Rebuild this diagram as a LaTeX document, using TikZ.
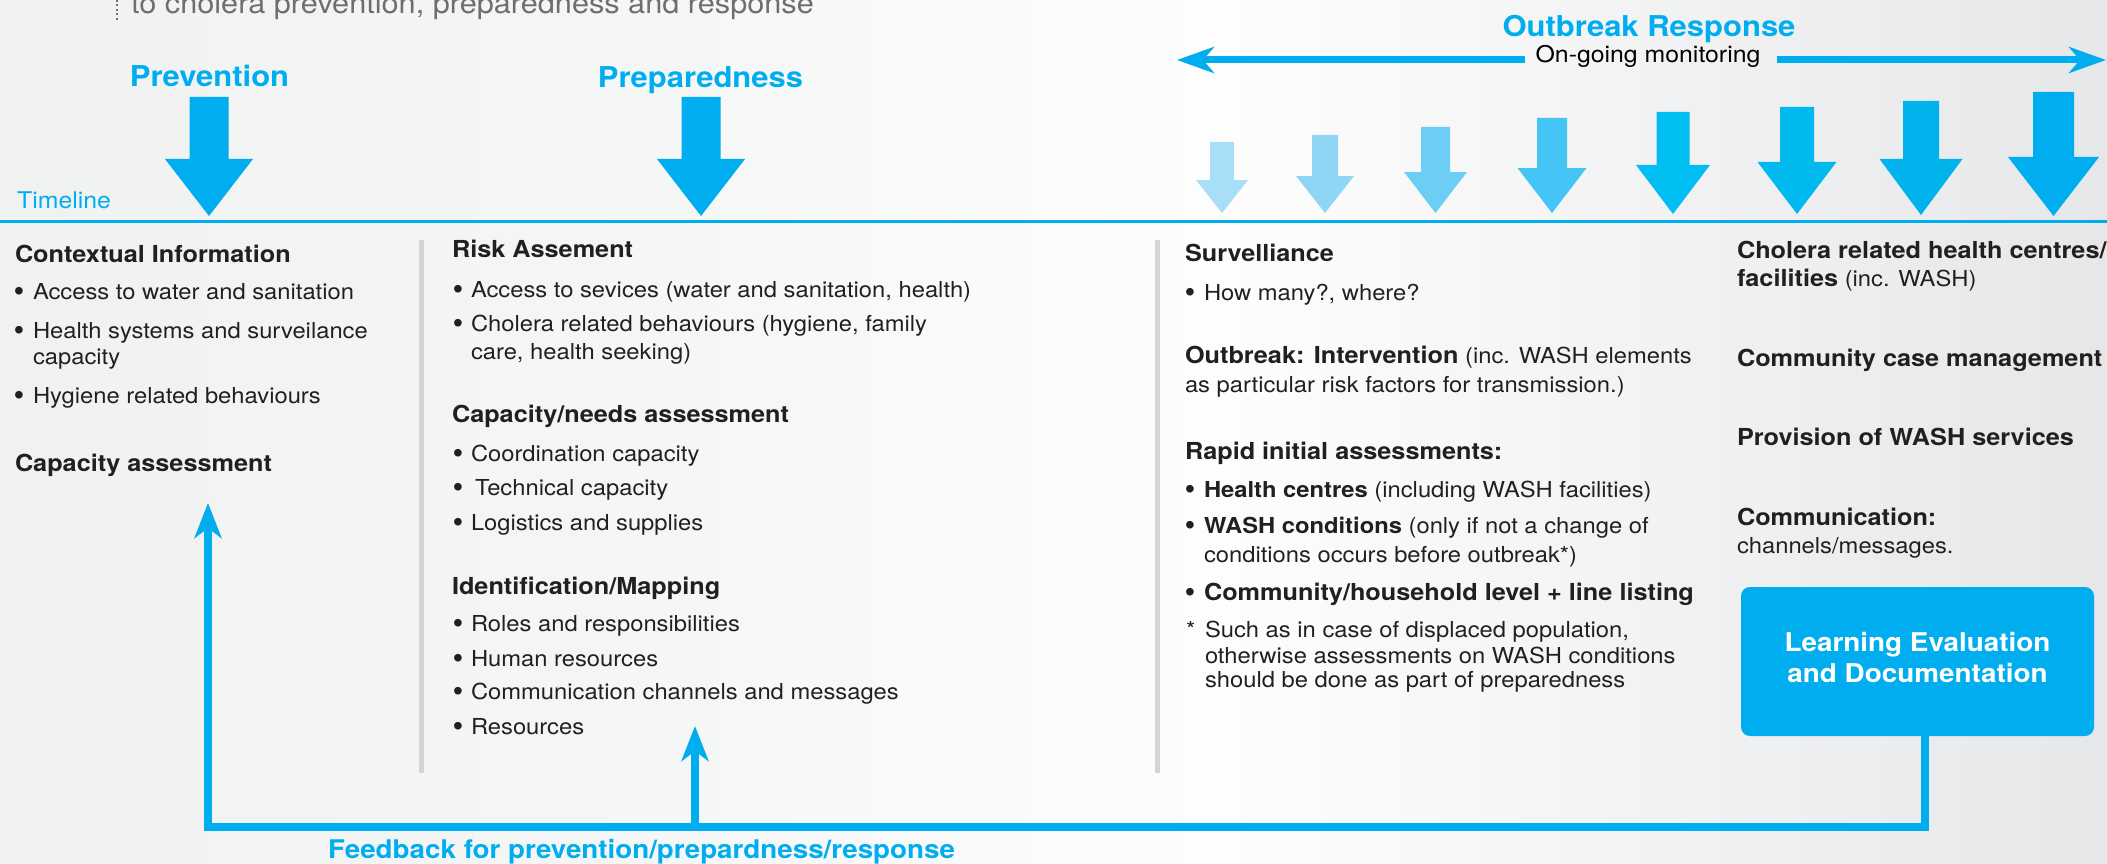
\documentclass[tikz,border=0pt]{standalone}
\usepackage{fontspec}
\setmainfont{TeX Gyre Heros}[FakeStretch=1.08]
\newfontfamily\bulf{Liberation Sans}
\usetikzlibrary{arrows.meta}
\definecolor{cy}{HTML}{00AEEF}
\definecolor{ink}{HTML}{231F20}
\definecolor{grayt}{HTML}{6D6E71}
\definecolor{sepc}{HTML}{D3D4D5}
\definecolor{bgA}{HTML}{F0F1F1}
\definecolor{bgB}{HTML}{F5F6F6}
\definecolor{bgC}{HTML}{FDFDFD}
\definecolor{bgD}{HTML}{E6E7E9}
\definecolor{aA}{HTML}{A8DEF7}
\definecolor{aB}{HTML}{8FD6F5}
\definecolor{aC}{HTML}{6DCEF5}
\definecolor{aD}{HTML}{45C5F5}
\definecolor{aE}{HTML}{00BEF2}
\definecolor{aF}{HTML}{00B9EF}
\definecolor{aG}{HTML}{00B3ED}
\definecolor{aH}{HTML}{00AEEF}
\pgfdeclarehorizontalshading{bgsh}{100bp}{color(0bp)=(bgA); color(25bp)=(bgA); color(41bp)=(bgB); color(54bp)=(bgC); color(75bp)=(bgD); color(100bp)=(bgD)}
\newcommand\hdf{\fontsize{23.4}{28}\selectfont\bfseries}
\newcommand\bul{\raisebox{-1.5pt}{\bulf\fontsize{28}{28}\selectfont •}}
\newcounter{tno}
\newcommand\putt[4][txt]{\stepcounter{tno}\node[#1] (t\arabic{tno}) at (#2,#3) {#4};}
% cx sw hw top base tip colour
\newcommand\darr[7]{\fill[#7] ({#1-#2},#4) -- ({#1+#2},#4) -- ({#1+#2},#5) -- ({#1+#3},#5) -- (#1,#6) -- ({#1-#3},#5) -- ({#1-#2},#5) -- cycle;}
\tikzset{
  txt/.style={anchor=base west, inner sep=0pt, outer sep=0pt, text=ink, font=\fontsize{22}{26}\selectfont},
  hd/.style={txt, font=\hdf},
  toptxt/.style={anchor=base west, inner sep=0pt, text=grayt, font=\fontsize{28.4}{34}\selectfont},
  title/.style={anchor=base, inner sep=0pt, text=cy, font=\fontsize{28.7}{34}\selectfont\bfseries},
  montxt/.style={anchor=base, inner sep=0pt, text=black, font=\fontsize{23}{28}\selectfont},
  tltxt/.style={anchor=base west, inner sep=0pt, text=cy, font=\fontsize{23}{28}\selectfont},
  fbtxt/.style={anchor=base, inner sep=0pt, text=cy, font=\fontsize{25.7}{30}\selectfont\bfseries},
  lbox/.style={fill=cy, rounded corners=9pt, minimum width=353pt, minimum height=149pt, inner sep=0pt, text=white, align=center, font=\fontsize{25.8}{31}\selectfont\bfseries},
  mline/.style={draw=cy, line width=7pt},
  fbline/.style={draw=cy, line width=7.5pt},
  tline/.style={draw=cy, line width=3.5pt},
  sepline/.style={draw=sepc, line width=5pt},
  dotl/.style={draw=grayt, line width=2pt, dash pattern=on 2pt off 2.5pt},
  mtip/.tip={Stealth[length=37pt,width=26pt,inset=11pt]},
  ftip/.tip={Stealth[length=35pt,width=27pt,inset=10pt]}
}
\begin{document}
\begin{tikzpicture}[x=1pt,y=-1pt]
\useasboundingbox (0,0) rectangle (2107,864);
\clip (0,0) rectangle (2107,864);
\shade[shading=bgsh] (0,0) rectangle (2107,864);

% intro line (cut at top)
\coordinate (d0) at (117,0); \coordinate (d1) at (117,21);
\draw[dotl] (d0) -- (d1);
\node[toptxt] (intro) at (131,14) {to cholera prevention, preparedness and response};

% titles
\node[title] (prev) at (209.5,87) {Prevention};
\node[title] (prep) at (700.5,88) {Preparedness};
\node[title] (outb) at (1649,37) {Outbreak Response};
\node[montxt] (mon) at (1648,63) {On-going monitoring};
\coordinate (mL) at (1177,60); \coordinate (mR) at (2106,60);
\draw[mline, mtip-, shorten >=10pt] (mL) -- (mon.west |- mL);
\draw[mline, -mtip, shorten <=16pt] (mon.east |- mR) -- (mR);

% big arrows
\darr{209}{19.5}{44}{97}{159}{216}{cy}
\darr{701}{19.5}{44}{97}{159}{216}{cy}
% growing arrows
\darr{1222}{12}{26}{142}{180}{213}{aA}
\darr{1325}{13}{29}{135}{176}{213}{aB}
\darr{1435.5}{14.5}{31.5}{127}{172}{213}{aC}
\darr{1552}{15}{34.5}{118}{168}{213}{aD}
\darr{1673}{16.5}{37}{112}{165}{214}{aE}
\darr{1797}{17}{39.5}{107}{162}{214}{aF}
\darr{1921}{18}{41.5}{101}{159}{215}{aG}
\darr{2053.5}{20.5}{45.5}{92}{157}{216}{aH}

% timeline
\node[tltxt] (tlab) at (17,208) {Timeline};
\coordinate (tl0) at (0,221.5); \coordinate (tl1) at (2107,221.5);
\draw[tline] (tl0) -- (tl1);

% separators
\coordinate (s1a) at (421.5,240); \coordinate (s1b) at (421.5,773);
\coordinate (s2a) at (1157,240); \coordinate (s2b) at (1157,773);
\draw[sepline] (s1a) -- (s1b);
\draw[sepline] (s2a) -- (s2b);

% column 1
\putt[hd]{15}{262}{Contextual Information}
\putt{14}{299}{\bul} \putt{33}{299}{Access to water and sanitation}
\putt{14}{338}{\bul} \putt{33}{338}{Health systems and surveilance}
\putt{33}{364}{capacity}
\putt{14}{403}{\bul} \putt{33}{403}{Hygiene related behaviours}
\putt[hd]{15}{471}{Capacity assessment}

% column 2
\putt[hd]{452}{257.5}{Risk Assement}
\putt{453}{297}{\bul} \putt{471}{297}{Access to sevices (water and sanitation, health)}
\putt{453}{331}{\bul} \putt{471}{331}{Cholera related behaviours (hygiene, family}
\putt{471}{359}{care, health seeking)}
\putt[hd]{452}{422}{Capacity/needs assessment}
\putt{453}{461}{\bul} \putt{471}{461}{Coordination capacity}
\putt{453}{495}{\bul} \putt{475}{495}{Technical capacity}
\putt{453}{530}{\bul} \putt{471}{530}{Logistics and supplies}
\putt[hd]{452}{594}{Identification/Mapping}
\putt{453}{631}{\bul} \putt{471}{631}{Roles and responsibilities}
\putt{453}{666}{\bul} \putt{471}{666}{Human resources}
\putt{453}{699}{\bul} \putt{471}{699}{Communication channels and messages}
\putt{453}{734}{\bul} \putt{471}{734}{Resources}

% column 3
\putt[hd]{1185}{261}{Survelliance}
\putt{1185}{300}{\bul} \putt{1204}{300}{How many?, where?}
\putt{1185}{363}{{\hdf Outbreak: Intervention} (inc. WASH elements}
\putt{1185}{392}{as particular risk factors for transmission.)}
\putt[hd]{1185}{459}{Rapid initial assessments:}
\putt{1185}{497}{\bul} \putt{1204}{497}{\textbf{Health centres} (including WASH facilities)}
\putt{1185}{533}{\bul} \putt{1204}{533}{\textbf{WASH conditions} (only if not a change of}
\putt{1204}{562}{conditions occurs before outbreak*)}
\putt{1185}{600}{\bul} \putt[hd]{1204}{600}{Community/household level + line listing}
\putt{1186}{637}{*} \putt{1205}{637}{Such as in case of displaced population,}
\putt{1205}{663}{otherwise assessments on WASH conditions}
\putt{1205}{687}{should be done as part of preparedness}

% column 4
\putt[hd]{1737}{258}{Cholera related health centres/}
\putt{1737}{286}{{\hdf facilities} (inc. WASH)}
\putt[hd]{1737}{366}{Community case management}
\putt[hd]{1737}{445}{Provision of WASH services}
\putt[hd]{1737}{525}{Communication:}
\putt{1737}{553}{channels/messages.}

% learning box and feedback loop
\node[lbox] (box) at (1917.5,661.5) {Learning Evaluation\\and Documentation\rule[-8pt]{0pt}{8pt}};
\coordinate (fbL) at (208,827); \coordinate (tipL) at (208,503);
\coordinate (fbM) at (695,827); \coordinate (tipM) at (695,726);
\draw[fbline, -ftip] ([xshift=7.5pt]box.south) |- (fbL) -- (tipL);
\draw[fbline, -ftip] (fbM) -- (tipM);
\node[fbtxt] (fbt) at (641.5,858) {Feedback for prevention/prepardness/response};
\end{tikzpicture}
\end{document}
